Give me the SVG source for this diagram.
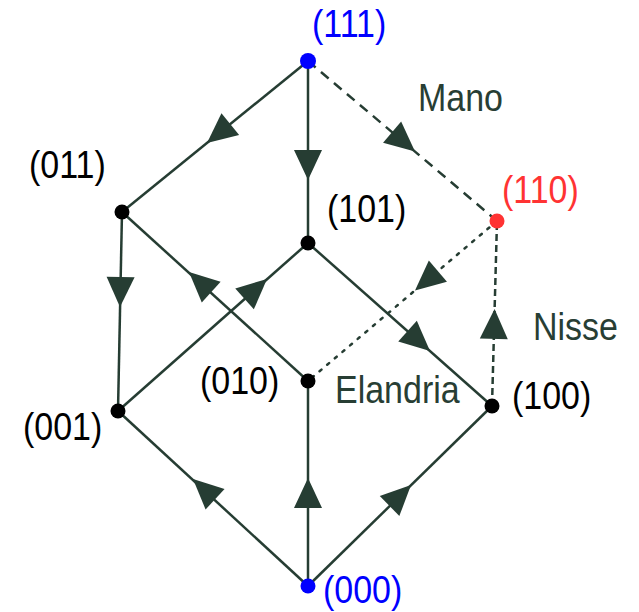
<svg xmlns="http://www.w3.org/2000/svg" width="639" height="612" viewBox="0 0 639 612">
  <style>
    .edge { stroke: #263d33; stroke-width: 2.5; fill: none; }
    .dash { stroke-dasharray: 10 7; }
    .dash2 { stroke-dasharray: 7 4; }
    .dot { stroke-dasharray: 2.5 7.5; stroke-linecap: round; }
    .head { fill: #263d33; }
    .lbl { font-family: "Liberation Sans", Arial, sans-serif; font-size: 34px; fill: #000; }
    .blue { fill: #0000ff; }
    .red { fill: #ff3333; }
    .name { font-family: "Liberation Sans", Arial, sans-serif; font-size: 34px; fill: #283e34; }
    .node { fill: #000; }
  </style>
  <defs>
    <!-- arrowhead with its tip at the origin, pointing along +x -->
    <path id="ah" d="M0,0 L-30,-14 L-30,14 Z"/>
  </defs>

  <g id="connectors">
    <line class="edge" x1="308" y1="61" x2="122" y2="212"/>
    <line class="edge" x1="308" y1="61" x2="308" y2="243"/>
    <line class="edge dash" x1="308" y1="61" x2="497" y2="221"/>
    <line class="edge" x1="122" y1="212" x2="118" y2="411"/>
    <line class="edge" x1="122" y1="212" x2="308" y2="381"/>
    <line class="edge" x1="118" y1="411" x2="308" y2="243"/>
    <line class="edge" x1="308" y1="243" x2="492" y2="406"/>
    <line class="edge dot" x1="497" y1="221" x2="308" y2="381"/>
    <line class="edge dash2" x1="492" y1="406" x2="497" y2="221"/>
    <line class="edge" x1="308" y1="586" x2="118" y2="411"/>
    <line class="edge" x1="308" y1="586" x2="308" y2="381"/>
    <line class="edge" x1="308" y1="586" x2="492" y2="406"/>

    <use href="#ah" class="head" transform="translate(207,143) rotate(140.9)"/>
    <use href="#ah" class="head" transform="translate(308,180) rotate(90)"/>
    <use href="#ah" class="head" transform="translate(415,151.5) rotate(40.25)"/>
    <use href="#ah" class="head" transform="translate(120,307) rotate(91.15)"/>
    <use href="#ah" class="head" transform="translate(189,272) rotate(-137.74)"/>
    <use href="#ah" class="head" transform="translate(267,279) rotate(-41.5)"/>
    <use href="#ah" class="head" transform="translate(430,351) rotate(41.5)"/>
    <use href="#ah" class="head" transform="translate(415,290.5) rotate(139.75)"/>
    <use href="#ah" class="head" transform="translate(494.6,309) rotate(-88.45)"/>
    <use href="#ah" class="head" transform="translate(193,479) rotate(-137.35)"/>
    <use href="#ah" class="head" transform="translate(308,478) rotate(-90)"/>
    <use href="#ah" class="head" transform="translate(411,485) rotate(-44.37)"/>
  </g>

  <!-- labels are drawn slightly stretched vertically -->
  <g id="n111"><circle cx="308" cy="61" r="8" class="blue"/><text transform="matrix(1,0,0,1.12,312,37)" class="lbl blue">(111)</text></g>
  <g id="n011"><circle cx="122" cy="212" r="7.5" class="node"/><text transform="matrix(1,0,0,1.12,29,178)" class="lbl">(011)</text></g>
  <g id="n101"><circle cx="308" cy="243" r="7.5" class="node"/><text transform="matrix(1,0,0,1.12,327,222)" class="lbl">(101)</text></g>
  <g id="n110"><circle cx="497" cy="221" r="7.5" class="red"/><text transform="matrix(1,0,0,1.12,502,203)" class="lbl red">(110)</text></g>
  <g id="n010"><circle cx="308" cy="381" r="7.5" class="node"/><text transform="matrix(1,0,0,1.12,200,394)" class="lbl">(010)</text></g>
  <g id="n001"><circle cx="118" cy="411" r="7.5" class="node"/><text transform="matrix(1,0,0,1.12,23,440)" class="lbl">(001)</text></g>
  <g id="n100"><circle cx="492" cy="406" r="7.5" class="node"/><text transform="matrix(1,0,0,1.12,512,409)" class="lbl">(100)</text></g>
  <g id="n000"><circle cx="308" cy="586" r="7.5" class="blue"/><text transform="matrix(1,0,0,1.12,323,603)" class="lbl blue">(000)</text></g>

  <g id="names">
    <text transform="matrix(1,0,0,1.12,418,111)" class="name">Mano</text>
    <text transform="matrix(1,0,0,1.12,533,340)" class="name">Nisse</text>
    <text transform="matrix(1,0,0,1.12,335,403)" class="name">Elandria</text>
  </g>
</svg>
